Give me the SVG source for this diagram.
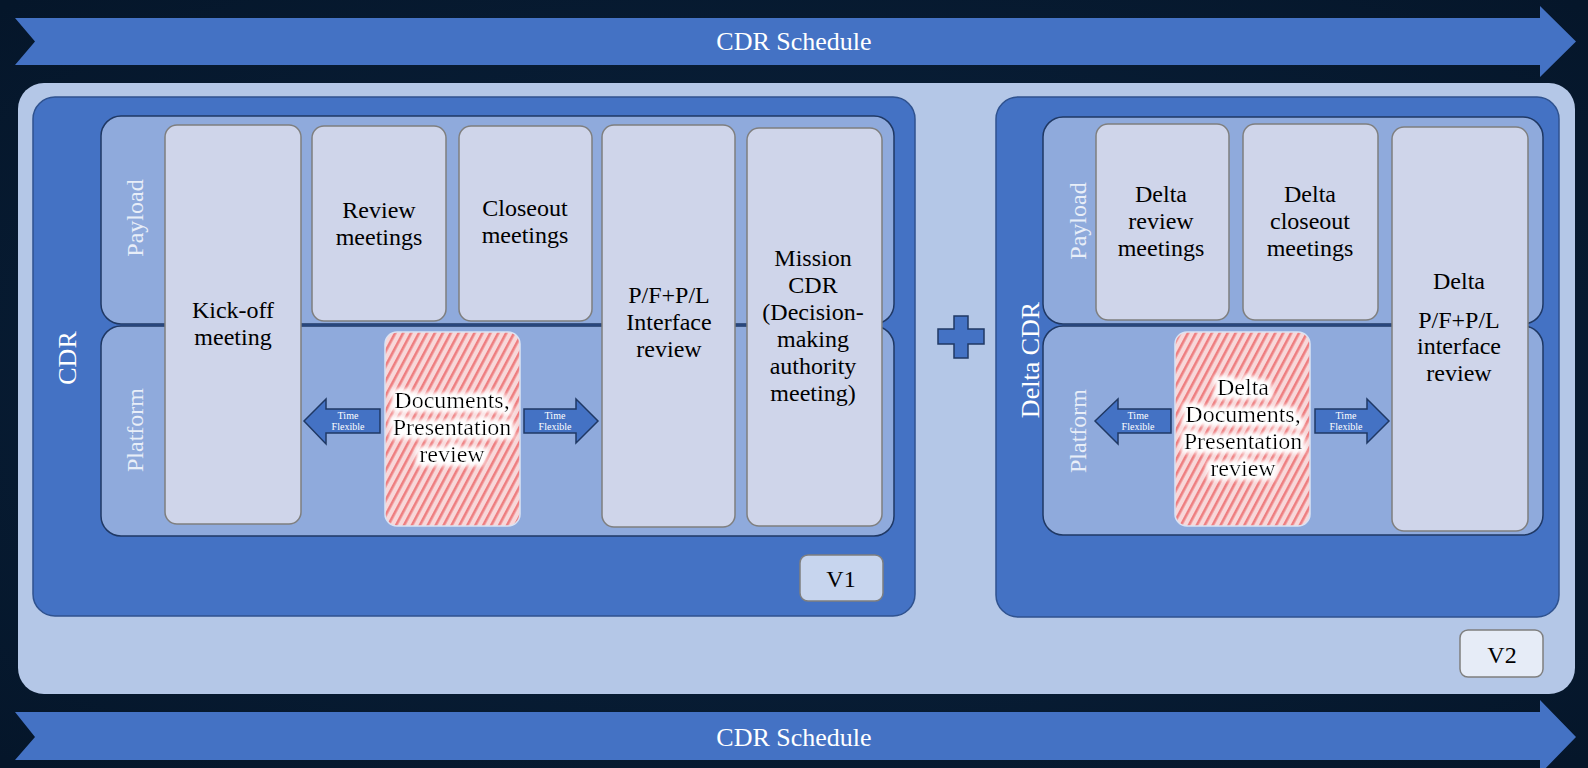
<svg xmlns="http://www.w3.org/2000/svg" width="1588" height="768" viewBox="0 0 1588 768">
<defs>
<style>
.t{font-family:"Liberation Serif","Times New Roman",serif;text-anchor:middle}
.box{fill:#CFD5EA;stroke:#7F7F7F;stroke-width:1.5}
.lane{fill:#8FAADC;stroke:#1F3864;stroke-width:1.5}
.main{fill:#4472C4;stroke:#2F528F;stroke-width:1.5}
.band{fill:#4472C4}
.tf{fill:#4472C4;stroke:#1F3864;stroke-width:1.5}
.lbl{font-family:"Liberation Serif","Times New Roman",serif;font-size:24px;fill:#000}
.lanet{font-family:"Liberation Serif","Times New Roman",serif;font-size:24px;fill:#E8EEF8}
.tft{font-family:"Liberation Serif","Times New Roman",serif;font-size:10px;fill:#FFFFFF}
.doc{fill:url(#stripes);stroke:#DAE3F3;stroke-width:1.5}
</style>
<radialGradient id="bg" cx="50%" cy="50%" r="70%">
<stop offset="0" stop-color="#0B2440"/>
<stop offset="1" stop-color="#05162A"/>
</radialGradient>
<pattern id="stripes" width="7" height="7" patternUnits="userSpaceOnUse" patternTransform="rotate(28)">
<rect width="7" height="7" fill="#F8D8DA"/>
<rect width="2.6" height="7" fill="#EE7E80"/>
</pattern>
<filter id="glow" x="-20%" y="-40%" width="140%" height="180%">
<feMorphology in="SourceAlpha" operator="dilate" radius="2.5" result="d"/>
<feGaussianBlur in="d" stdDeviation="2.5" result="b"/>
<feFlood flood-color="#FFFFFF"/>
<feComposite in2="b" operator="in" result="w"/>
<feMerge><feMergeNode in="w"/><feMergeNode in="w"/><feMergeNode in="SourceGraphic"/></feMerge>
</filter>
</defs>
<rect width="1588" height="768" fill="url(#bg)"/>

<g id="schedule-top">
<path class="band" d="M15,18 L1540,18 L1540,6 L1576,41.5 L1540,77 L1540,65 L15,65 L35,41.5 Z"/>
<text class="t" x="794" y="50" font-size="26" fill="#FFFFFF">CDR Schedule</text>
</g>
<g id="schedule-bottom">
<path class="band" d="M15,712 L1540,712 L1540,700 L1576,737 L1540,774 L1540,760 L15,760 L35,737 Z"/>
<text class="t" x="794" y="746" font-size="26" fill="#FFFFFF">CDR Schedule</text>
</g>

<g id="v2-panel">
<rect x="18" y="83" width="1557" height="611" rx="26" fill="#B4C7E7"/>
</g>

<g id="v1-cdr">
<rect class="main" x="33" y="97" width="882" height="519" rx="22"/>
<text class="t" transform="translate(76,358) rotate(-90)" font-size="26" fill="#FFFFFF">CDR</text>
<rect class="lane" x="101" y="116" width="793" height="208" rx="20"/>
<rect class="lane" x="101" y="326" width="793" height="210" rx="20"/>
<text class="t lanet" transform="translate(143,218) rotate(-90)">Payload</text>
<text class="t lanet" transform="translate(143,430) rotate(-90)">Platform</text>
</g>

<g id="kickoff">
<rect class="box" x="165" y="125" width="136" height="399" rx="12"/>
<text class="t lbl" x="233" y="318">Kick-off</text>
<text class="t lbl" x="233" y="345">meeting</text>
</g>
<g id="review">
<rect class="box" x="312" y="126" width="134" height="195" rx="12" fill="#C9D1E9"/>
<text class="t lbl" x="379" y="218">Review</text>
<text class="t lbl" x="379" y="245">meetings</text>
</g>
<g id="closeout">
<rect class="box" x="459" y="126" width="133" height="195" rx="12" fill="#C9D1E9"/>
<text class="t lbl" x="525" y="216">Closeout</text>
<text class="t lbl" x="525" y="243">meetings</text>
</g>
<g id="interface">
<rect class="box" x="602" y="125" width="133" height="402" rx="12"/>
<text class="t lbl" x="669" y="303">P/F+P/L</text>
<text class="t lbl" x="669" y="330">Interface</text>
<text class="t lbl" x="669" y="357">review</text>
</g>
<g id="mission">
<rect class="box" x="747" y="128" width="135" height="398" rx="12"/>
<text class="t lbl" x="813" y="266">Mission</text>
<text class="t lbl" x="813" y="293">CDR</text>
<text class="t lbl" x="813" y="320">(Decision-</text>
<text class="t lbl" x="813" y="347">making</text>
<text class="t lbl" x="813" y="374">authority</text>
<text class="t lbl" x="813" y="401">meeting)</text>
</g>
<g id="documents">
<rect class="doc" x="385" y="332" width="135" height="194" rx="12"/>
<g filter="url(#glow)">
<text class="t lbl" x="452" y="408">Documents,</text>
<text class="t lbl" x="452" y="435">Presentation</text>
<text class="t lbl" x="452" y="462">review</text>
</g>
</g>
<g id="v1-label">
<rect x="800" y="555" width="83" height="46" rx="8" fill="#C7D5EE" stroke="#7F7F7F" stroke-width="1.5"/>
<text class="t lbl" x="841" y="587">V1</text>
</g>

<g id="plus">
<path d="M954,316 L968,316 L968,329 L984,329 L984,344 L968,344 L968,358 L954,358 L954,344 L938,344 L938,329 L954,329 Z" fill="#4472C4" stroke="#1F3864" stroke-width="1.5"/>
</g>

<g id="delta-cdr">
<rect class="main" x="996" y="97" width="563" height="520" rx="22"/>
<text class="t" transform="translate(1039,360) rotate(-90)" font-size="26" fill="#FFFFFF">Delta CDR</text>
<rect class="lane" x="1043" y="117" width="500" height="207" rx="20"/>
<rect class="lane" x="1043" y="326" width="500" height="209" rx="20"/>
<text class="t lanet" transform="translate(1086,221) rotate(-90)">Payload</text>
<text class="t lanet" transform="translate(1086,431) rotate(-90)">Platform</text>
</g>
<g id="delta-review">
<rect class="box" x="1096" y="124" width="133" height="196" rx="12" fill="#C9D1E9"/>
<text class="t lbl" x="1161" y="202">Delta</text>
<text class="t lbl" x="1161" y="229">review</text>
<text class="t lbl" x="1161" y="256">meetings</text>
</g>
<g id="delta-closeout">
<rect class="box" x="1243" y="124" width="135" height="196" rx="12" fill="#C9D1E9"/>
<text class="t lbl" x="1310" y="202">Delta</text>
<text class="t lbl" x="1310" y="229">closeout</text>
<text class="t lbl" x="1310" y="256">meetings</text>
</g>
<g id="delta-interface">
<rect class="box" x="1392" y="127" width="136" height="404" rx="12"/>
<text class="t lbl" x="1459" y="289">Delta</text>
<text class="t lbl" x="1459" y="328">P/F+P/L</text>
<text class="t lbl" x="1459" y="354">interface</text>
<text class="t lbl" x="1459" y="381">review</text>
</g>
<g id="delta-documents">
<rect class="doc" x="1175" y="332" width="135" height="194" rx="12"/>
<g filter="url(#glow)">
<text class="t lbl" x="1243" y="395">Delta</text>
<text class="t lbl" x="1243" y="422">Documents,</text>
<text class="t lbl" x="1243" y="449">Presentation</text>
<text class="t lbl" x="1243" y="476">review</text>
</g>
</g>
<g id="v2-label">
<rect x="1460" y="630" width="83" height="47" rx="8" fill="#E6ECF7" stroke="#7F7F7F" stroke-width="1.5"/>
<text class="t lbl" x="1502" y="663">V2</text>
</g>

<g id="connectors">
<path class="tf" d="M304,421 L326,399 L326,409 L380,409 L380,433 L326,433 L326,444 Z"/>
<text class="t tft" x="348" y="419">Time</text>
<text class="t tft" x="348" y="430">Flexible</text>
<path class="tf" d="M524,409 L576,409 L576,399 L598,421 L576,443 L576,433 L524,433 Z"/>
<text class="t tft" x="555" y="419">Time</text>
<text class="t tft" x="555" y="430">Flexible</text>
<path class="tf" d="M1095,421 L1118,399 L1118,409 L1171,409 L1171,433 L1118,433 L1118,444 Z"/>
<text class="t tft" x="1138" y="419">Time</text>
<text class="t tft" x="1138" y="430">Flexible</text>
<path class="tf" d="M1315,409 L1367,409 L1367,399 L1389,421 L1367,443 L1367,433 L1315,433 Z"/>
<text class="t tft" x="1346" y="419">Time</text>
<text class="t tft" x="1346" y="430">Flexible</text>
</g>
</svg>
